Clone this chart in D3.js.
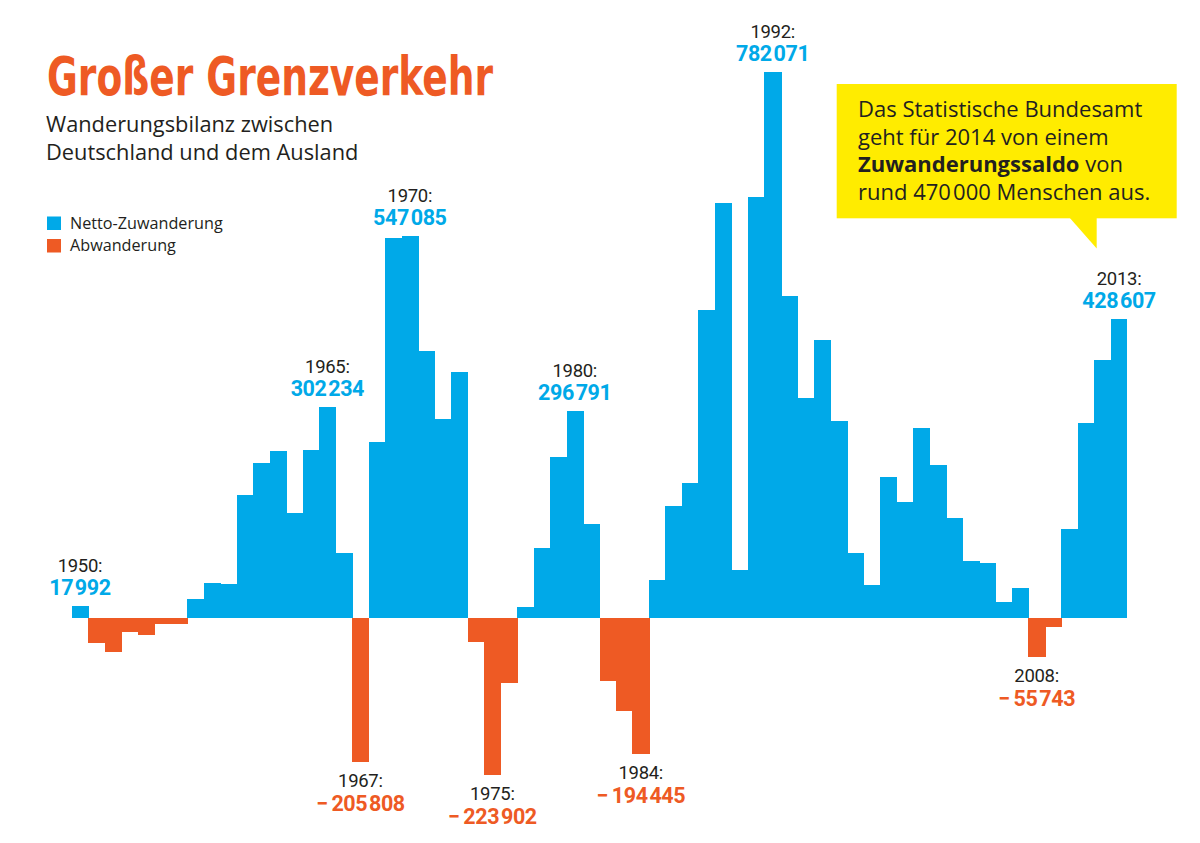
<!DOCTYPE html>
<html>
<head>
<meta charset="utf-8">
<script src="https://cdn.jsdelivr.net/npm/d3@7"></script>
<style>
  html, body { margin: 0; padding: 0; background: #fff; }
  svg { display: block; }
</style>
</head>
<body>
<svg id="chart" width="1200" height="843"></svg>
<script>
// ---------- DATA ----------
const years = d3.range(1950, 2014);
const saldo = [
  17992, -35800, -47800, -20000, -23900, -8200, -8200, 27200, 51000, 49500,
  176400, 222700, 239800, 150700, 240800, 302234, 93500, -205808, 252700, 543800,
  547085, 382100, 284800, 352500, -34300, -223902, -92100, 16600, 101000, 231300,
  296791, 135000, -89700, -132700, -194445, 55400, 160600, 193300, 441500, 593700,
  69100, 603000, 782071, 461800, 315500, 397700, 282600, 93700, 48200, 202200,
  166600, 272700, 219400, 143100, 82400, 78700, 23800, 43800, -55743, -12900,
  127400, 279000, 369600, 428607
];
const highlightYears = [1950, 1965, 1967, 1970, 1975, 1980, 1984, 1992, 2008, 2013];
const legendLabels = ["Netto-Zuwanderung", "Abwanderung"];
const titleText = "Großer Grenzverkehr";
const subtitleLines = ["Wanderungsbilanz zwischen", "Deutschland und dem Ausland"];
const noteLines = [
  [{t: "Das Statistische Bundesamt", b: false}],
  [{t: "geht für 2014 von einem", b: false}],
  [{t: "Zuwanderungssaldo", b: true}, {t: " von", b: false}],
  [{t: "rund 470\u200A000 Menschen aus.", b: false}]
];

// ---------- STYLE ----------
const BLUE = "#00a9e8";
const ORANGE = "#ee5a24";
const TEXT = "#231f20";
const YELLOW = "#ffec00";

const data = years.map((y, i) => ({year: y, value: saldo[i]}));
const svg = d3.select("#chart");

const x = d3.scaleBand().domain(years).range([71.7, 1127.3]).padding(0);
const y = d3.scaleLinear().domain([0, 782071]).range([618.3, 71.8]);

const fmt = d3.formatLocale({decimal: ",", thousands: "\u200A", grouping: [3], currency: ["", "€"], minus: "\u2212\u2009"}).format(",d");

// bars (slight overlap to avoid seams)
svg.append("g").attr("shape-rendering", "crispEdges")
  .selectAll("rect").data(data).join("rect")
  .attr("x", d => x(d.year))
  .attr("width", (d, i) => i < data.length - 1 ? x.bandwidth() + 0.8 : x.bandwidth())
  .attr("y", d => d.value >= 0 ? y(d.value) : y(0))
  .attr("height", d => Math.abs(y(d.value) - y(0)))
  .attr("fill", d => d.value >= 0 ? BLUE : ORANGE);

// title
svg.append("text")
  .attr("x", 47).attr("y", 95)
  .attr("font-family", "'Liberation Sans Narrow', 'DejaVu Sans Condensed', Roboto, sans-serif")
  .attr("font-weight", "bold").attr("font-size", 54)
  .attr("fill", ORANGE)
  .attr("textLength", 446).attr("lengthAdjust", "spacingAndGlyphs")
  .text(titleText);

// subtitle
svg.append("g").selectAll("text").data(subtitleLines).join("text")
  .attr("x", 46).attr("y", (d, i) => 132 + i * 27.5)
  .attr("font-family", "'Open Sans', 'Noto Sans', sans-serif")
  .attr("font-size", 21.8).attr("fill", TEXT)
  .text(d => d);

// legend
const lg = svg.append("g");
legendLabels.forEach((lab, i) => {
  lg.append("rect").attr("x", 47).attr("y", 216.5 + i * 22.5).attr("width", 14).attr("height", 13.5)
    .attr("fill", i === 0 ? BLUE : ORANGE);
  lg.append("text").attr("x", 70).attr("y", 228.5 + i * 22.5)
    .attr("font-family", "'Open Sans', 'Noto Sans', sans-serif")
    .attr("font-size", 16.2).attr("fill", TEXT).text(lab);
});

// annotations
const ann = svg.append("g").attr("text-anchor", "middle");
highlightYears.forEach(yr => {
  const d = data.find(e => e.year === yr);
  const cx = x(yr) + x.bandwidth() / 2;
  const pos = d.value >= 0;
  const yv = y(d.value);
  const yearY = pos ? yv - 34 : yv + 25;
  const valY = pos ? yv - 11 : yv + 49;
  ann.append("text").attr("x", cx).attr("y", yearY)
    .attr("font-family", "Roboto, 'Liberation Sans', sans-serif")
    .attr("font-weight", 400).attr("font-size", 18.5).attr("letter-spacing", -0.3).attr("fill", TEXT)
    .text(yr + ":");
  ann.append("text").attr("x", cx).attr("y", valY)
    .attr("font-family", "Roboto, 'Liberation Sans', sans-serif")
    .attr("font-weight", 700).attr("font-size", 21.5).attr("letter-spacing", -0.4)
    .attr("fill", pos ? BLUE : ORANGE)
    .text(fmt(d.value));
});

// note box
const nb = svg.append("g");
nb.append("rect").attr("x", 836.7).attr("y", 84).attr("width", 340).attr("height", 134.3).attr("fill", YELLOW);
nb.append("polygon").attr("points", "1069,217 1096.7,217 1096.7,248.5").attr("fill", YELLOW);
noteLines.forEach((line, i) => {
  const t = nb.append("text").attr("x", 858).attr("y", 117 + i * 27.6)
    .attr("font-family", "'Open Sans', 'Noto Sans', sans-serif")
    .attr("font-size", 22).attr("fill", TEXT);
  line.forEach(p => t.append("tspan").attr("font-weight", p.b ? 700 : 400).text(p.t));
});
</script>
</body>
</html>
